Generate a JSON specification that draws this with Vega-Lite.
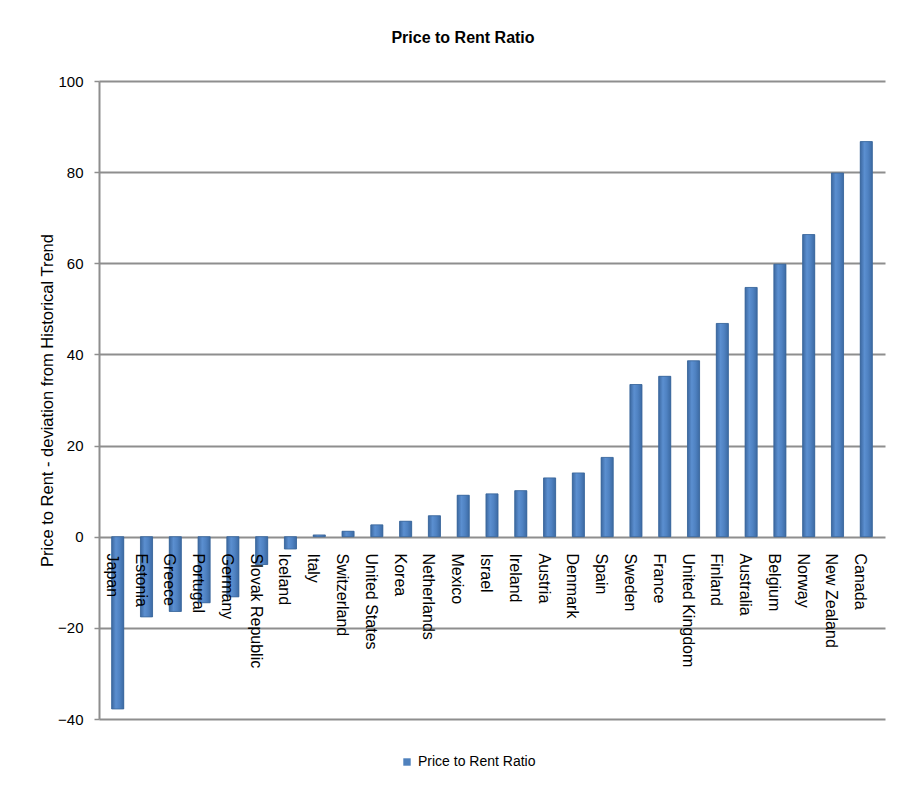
{
  "$schema": "https://vega.github.io/schema/vega-lite/v6.json",
  "width": 786,
  "height": 638,
  "autosize": {"type": "none"},
  "padding": {"left": 99, "top": 81, "right": 21, "bottom": 68},
  "background": "white",
  "config": {"view": {"stroke": null}},
  "title": {
    "text": "Price to Rent Ratio",
    "font": "Liberation Sans, Arial, sans-serif",
    "fontSize": 16,
    "fontWeight": "bold",
    "color": "#000000",
    "anchor": "middle",
    "dx": -29,
    "offset": 28
  },
  "data": {
    "values": [
      {"country": "Japan", "value": -37.8},
      {"country": "Estonia", "value": -17.6},
      {"country": "Greece", "value": -16.4},
      {"country": "Portugal", "value": -14.5},
      {"country": "Germany", "value": -13.2},
      {"country": "Slovak Republic", "value": -6.1},
      {"country": "Iceland", "value": -2.7},
      {"country": "Italy", "value": 0.4},
      {"country": "Switzerland", "value": 1.2},
      {"country": "United States", "value": 2.6},
      {"country": "Korea", "value": 3.4},
      {"country": "Netherlands", "value": 4.6},
      {"country": "Mexico", "value": 9.1},
      {"country": "Israel", "value": 9.4},
      {"country": "Ireland", "value": 10.1},
      {"country": "Austria", "value": 12.9},
      {"country": "Denmark", "value": 14.0},
      {"country": "Spain", "value": 17.4},
      {"country": "Sweden", "value": 33.4},
      {"country": "France", "value": 35.2},
      {"country": "United Kingdom", "value": 38.6},
      {"country": "Finland", "value": 46.8},
      {"country": "Australia", "value": 54.7},
      {"country": "Belgium", "value": 59.8},
      {"country": "Norway", "value": 66.3},
      {"country": "New Zealand", "value": 79.8},
      {"country": "Canada", "value": 86.7}
    ]
  },
  "encoding": {
    "x": {
      "field": "country",
      "type": "nominal",
      "sort": null,
      "scale": {"paddingInner": 0.58, "paddingOuter": 0.44},
      "axis": {
        "orient": "bottom",
        "offset": -182,
        "zindex": 1,
        "title": null,
        "labelAngle": 90,
        "labelAlign": "left",
        "labelBaseline": "middle",
        "labelPadding": 16,
        "labelOffset": -6,
        "labelFont": "Liberation Sans, Arial, sans-serif",
        "labelFontSize": 16,
        "labelColor": "#000000",
        "labelOverlap": false,
        "domain": false,
        "ticks": false
      }
    },
    "y": {
      "field": "value",
      "type": "quantitative",
      "scale": {"domain": [-40, 100], "nice": false, "zero": false},
      "axis": {
        "values": [-40, -20, 0, 20, 40, 60, 80, 100],
        "grid": true,
        "gridColor": "#8E8E8E",
        "gridWidth": 2,
        "domainColor": "#8E8E8E",
        "domainWidth": 2,
        "tickColor": "#8E8E8E",
        "tickSize": 5,
        "tickWidth": 1.5,
        "labelFont": "Liberation Sans, Arial, sans-serif",
        "labelFontSize": 15,
        "labelColor": "#000000",
        "labelPadding": 11,
        "title": "Price to Rent - deviation from Historical Trend",
        "titleFont": "Liberation Sans, Arial, sans-serif",
        "titleFontSize": 16.5,
        "titleFontWeight": "normal",
        "titleColor": "#000000",
        "titlePadding": 2
      }
    }
  },
  "layer": [
    {
      "mark": {"type": "bar"},
      "encoding": {
        "color": {
          "datum": "Price to Rent Ratio",
          "type": "nominal",
          "scale": {"range": ["#4F81BD"]},
          "legend": {
            "title": null,
            "orient": "none",
            "legendX": 301,
            "legendY": 674,
            "symbolType": "square",
            "symbolSize": 55,
            "symbolStrokeWidth": 0,
            "labelFont": "Liberation Sans, Arial, sans-serif",
            "labelFontSize": 14,
            "labelColor": "#000000"
          }
        }
      }
    },
    {
      "mark": {
        "type": "bar",
        "stroke": "#3A6699",
        "strokeWidth": 0.8,
        "fill": {
          "gradient": "linear",
          "x1": 0, "y1": 0, "x2": 1, "y2": 0,
          "stops": [
            {"offset": 0, "color": "#3C68A0"},
            {"offset": 0.35, "color": "#5B8FD0"},
            {"offset": 0.65, "color": "#4F82C2"},
            {"offset": 1, "color": "#3C6AA3"}
          ]
        }
      },
      "encoding": {}
    }
  ]
}
